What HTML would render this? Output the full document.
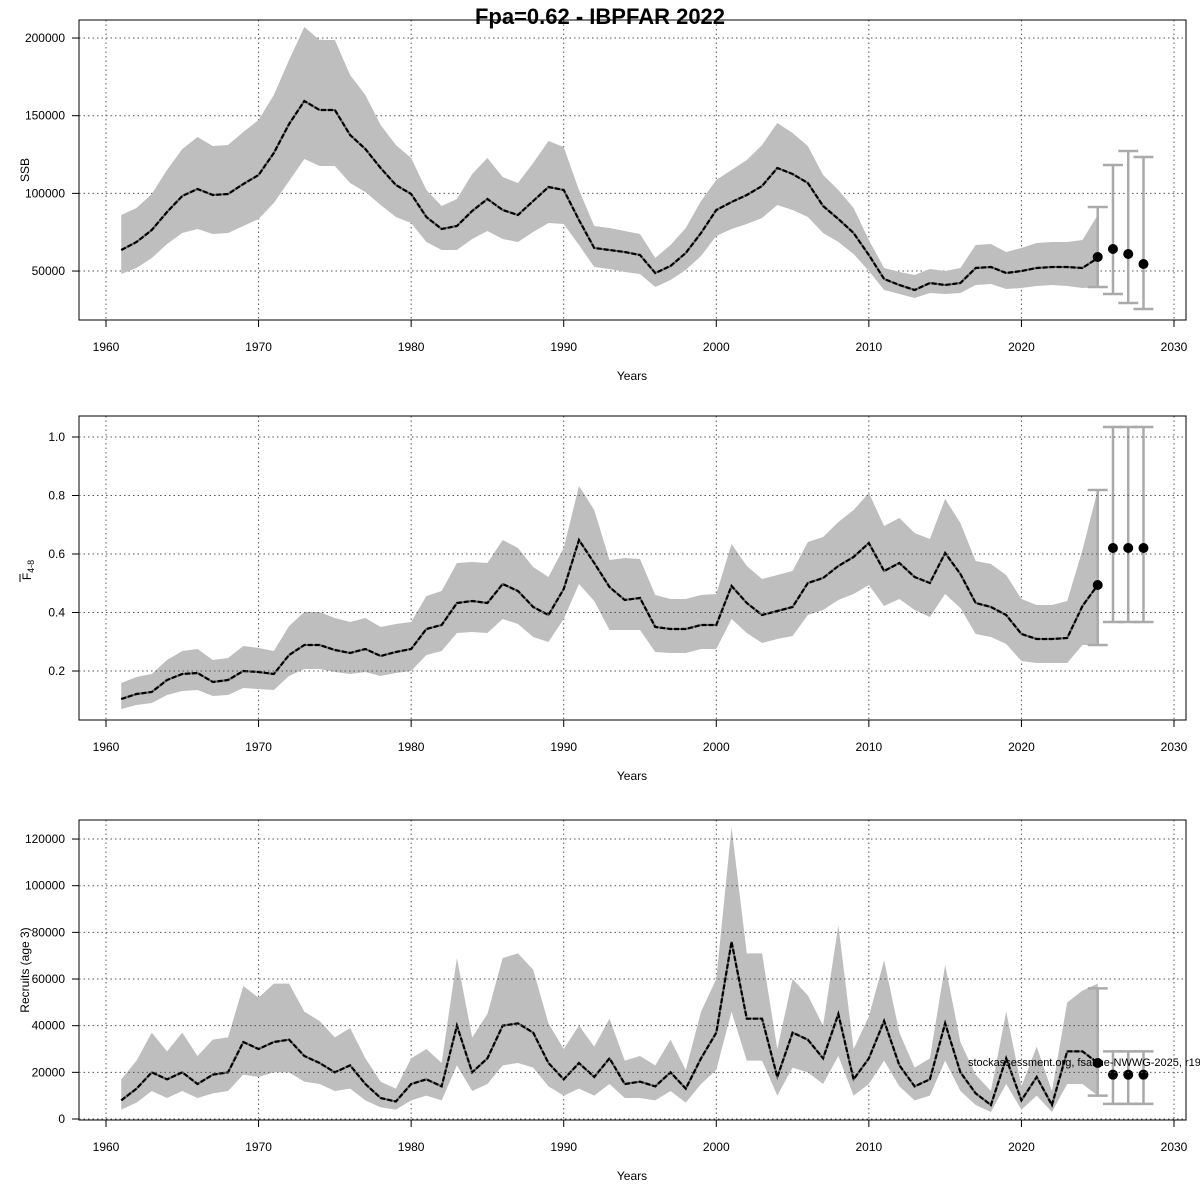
<!DOCTYPE html>
<html><head><meta charset="utf-8"><style>
html,body{margin:0;padding:0;background:#fff}
svg{display:block;font-family:"Liberation Sans",Arial,sans-serif}
</style></head><body>
<svg id="s" width="1200" height="1200" xmlns="http://www.w3.org/2000/svg"></svg>
<script>
const S=document.getElementById('s');
let h='';
const X=y=>106+(y-1960)*(1068/70);
const L=79,R=1186;
h+='<text x="600" y="24" text-anchor="middle" font-size="22" font-weight="bold">Fpa=0.62 - IBPFAR 2022</text>';
function panel(top,bot,yt,yf,mid,up,lo,pts,bars,ylab){
  for(let y=1960;y<=2030;y+=10){h+=`<line x1="${X(y)}" y1="${top}" x2="${X(y)}" y2="${bot}" stroke="#555" stroke-dasharray="1.5,3"/>`;}
  yt.forEach(v=>{const py=yf(v);h+=`<line x1="${L}" y1="${py}" x2="${R}" y2="${py}" stroke="#555" stroke-dasharray="1.5,3"/>`;
   h+=`<line x1="${L}" y1="${py}" x2="${L-7}" y2="${py}" stroke="#000"/>`;
   h+=`<text x="${L-14}" y="${py+4}" text-anchor="end" font-size="12">${v}</text>`;});
  let p='';for(let i=0;i<up.length;i++)p+=X(1961+i)+','+up[i]+' ';
  for(let i=lo.length-1;i>=0;i--)p+=X(1961+i)+','+lo[i]+' ';
  h+=`<polygon points="${p}" fill="#bebebe"/>`;
  let m='';mid.forEach((v,i)=>m+=X(1961+i)+','+v+' ');
  h+=`<polyline points="${m}" fill="none" stroke="#666" stroke-width="2"/>`;
  h+=`<polyline points="${m}" fill="none" stroke="#000" stroke-width="2.2" stroke-dasharray="5,2"/>`;
  bars.forEach((b,i)=>{const x=X(2025+i);h+=`<line x1="${x}" y1="${b[0]}" x2="${x}" y2="${b[1]}" stroke="#aaa" stroke-width="2.5"/><line x1="${x-10}" y1="${b[0]}" x2="${x+10}" y2="${b[0]}" stroke="#aaa" stroke-width="2.5"/><line x1="${x-10}" y1="${b[1]}" x2="${x+10}" y2="${b[1]}" stroke="#aaa" stroke-width="2.5"/>`;});
  pts.forEach((v,i)=>{h+=`<circle cx="${X(2025+i)}" cy="${v}" r="5" fill="#000"/>`;});
  h+=`<rect x="${L}" y="${top}" width="${R-L}" height="${bot-top}" fill="none" stroke="#000"/>`;
  for(let y=1960;y<=2030;y+=10){h+=`<line x1="${X(y)}" y1="${bot}" x2="${X(y)}" y2="${bot+7}" stroke="#000"/><text x="${X(y)}" y="${bot+31}" text-anchor="middle" font-size="12">${y}</text>`;}
  h+=`<text x="632" y="${bot+60}" text-anchor="middle" font-size="12">Years</text>`;
  h+=ylab;
}
const y1=v=>348.7-v*77.67/50000;
panel(20,320,[50000,100000,150000,200000],y1,
[250,242,230,212,196,189,195,194,184,175,153,124,101,110,110,135,149,168,185,194,217,229,226,211,199,210,215,201,187,190,220,248,250,252,255,273,266,253,233,210,202,195,186,168,174,183,206,219,233,255,279,285,290,283,285,283,268,267,273,271,268,267,267,268,258],
[215,208,194,170,149,137,146,145,132,120,95,60,27,40,40,75,95,125,145,158,190,206,199,174,158,177,183,163,141,147,190,226,228,231,234,258,245,228,201,180,170,160,145,123,133,146,175,190,208,240,268,272,275,269,271,268,245,244,252,248,243,242,242,240,215],
[274,268,258,244,233,229,234,233,226,219,203,181,159,166,166,183,192,205,217,223,242,250,250,239,231,239,242,232,223,224,245,267,269,272,274,287,280,270,256,236,229,224,218,205,210,217,233,242,254,271,290,294,298,293,294,293,285,284,289,288,286,285,286,288,287],
[257,249,254,264],[[207,287],[165,294],[151,303],[157,309]],
'<text transform="translate(29,170) rotate(-90)" text-anchor="middle" font-size="12">SSB</text>');
const y2=v=>729.5-v*292.5;
panel(416,720,[],y2,
[699,694,692,680,674,673,682,680,671,672,674,655,645,645,650,653,649,656,652,649,629,625,603,601,603,584,591,607,615,589,540,563,587,600,598,627,629,629,625,625,586,603,615,611,607,583,578,566,557,543,571,563,577,583,553,574,603,607,615,634,639,639,638,606,585],
[683,677,674,660,651,649,660,658,646,648,651,626,612,612,618,622,618,627,624,622,596,591,563,562,563,540,548,567,577,548,486,510,560,558,559,595,599,599,595,594,544,566,579,575,571,542,537,522,510,493,526,518,533,539,499,523,561,564,575,599,605,605,601,550,490],
[709,705,703,695,691,690,696,695,688,689,690,676,669,669,672,674,672,676,673,671,655,651,633,632,633,619,624,637,642,619,584,601,630,630,630,652,653,653,649,649,619,633,643,639,636,615,610,600,594,585,606,599,610,617,594,608,634,637,644,661,663,663,663,645,645],
[585,548,548,548],[[490,645],[427,622],[427,622],[427,622]],
'<text transform="translate(31,570) rotate(-90)" text-anchor="middle" font-size="12">F<tspan font-size="9" dy="3">4-8</tspan></text><line x1="20" y1="574" x2="20" y2="582" stroke="#000"/>');
[0.2,0.4,0.6,0.8,1.0].forEach(v=>{const py=y2(v);h+=`<line x1="${L}" y1="${py}" x2="${R}" y2="${py}" stroke="#555" stroke-dasharray="1.5,3"/><line x1="${L}" y1="${py}" x2="${L-7}" y2="${py}" stroke="#000"/><text x="${L-14}" y="${py+4}" text-anchor="end" font-size="12">${v.toFixed(1)}</text>`;});
const y3=k=>1119-k*2.333;
const rm=[8,13,20,17,20,15,19,20,33,30,33,34,27,24,20,23,15,9,7.5,15,17,14,40,20,26,40,41,37,24,17,24,18,26,15,16,14,20,13,26,37,76,43,43,18,37,34,26,45,17,26,42,23,14,17,41,20,11,6,26,8,18,6,29,29,24];
const ru=[17,25,37,29,37,27,34,35,57,52,58,58,46,42,35,39,26,16,13,26,30,24,69,35,45,69,71,64,41,30,40,31,43,25,27,23,34,21,46,60,125,71,71,30,60,53,40,83,30,44,68,37,22,26,66,33,19,12,46,14,31,12,50,55,58];
const rl=[4,7,12,9,12,9,11,12,19,18,20,20,16,15,12,13,8,5,4,8,10,8,23,12,15,23,24,22,14,10,13,10,15,9,9,8,12,7,15,21,46,25,25,10,22,20,15,27,10,15,25,14,8,10,25,12,6,3,15,4,10,3,15,15,10];
panel(820,1120,[],y3,rm.map(y3),ru.map(y3),rl.map(y3),[y3(24),y3(19),y3(19),y3(19)],[[y3(56),y3(10)],[y3(29),y3(6.5)],[y3(29),y3(6.5)],[y3(29),y3(6.5)]],
'<text transform="translate(29,970) rotate(-90)" text-anchor="middle" font-size="12">Recruits (age 3)</text>');
[0,20000,40000,60000,80000,100000,120000].forEach(v=>{const py=y3(v/1000);h+=`<line x1="${L}" y1="${py}" x2="${R}" y2="${py}" stroke="#555" stroke-dasharray="1.5,3"/><line x1="${L}" y1="${py}" x2="${L-7}" y2="${py}" stroke="#000"/><text x="${L-14}" y="${py+4}" text-anchor="end" font-size="12">${v}</text>`;});
h+='<text x="968" y="1066" font-size="11">stockassessment.org, fsaithe-NWWG-2025, r1935</text>';
S.innerHTML=h;
</script>
</body></html>
